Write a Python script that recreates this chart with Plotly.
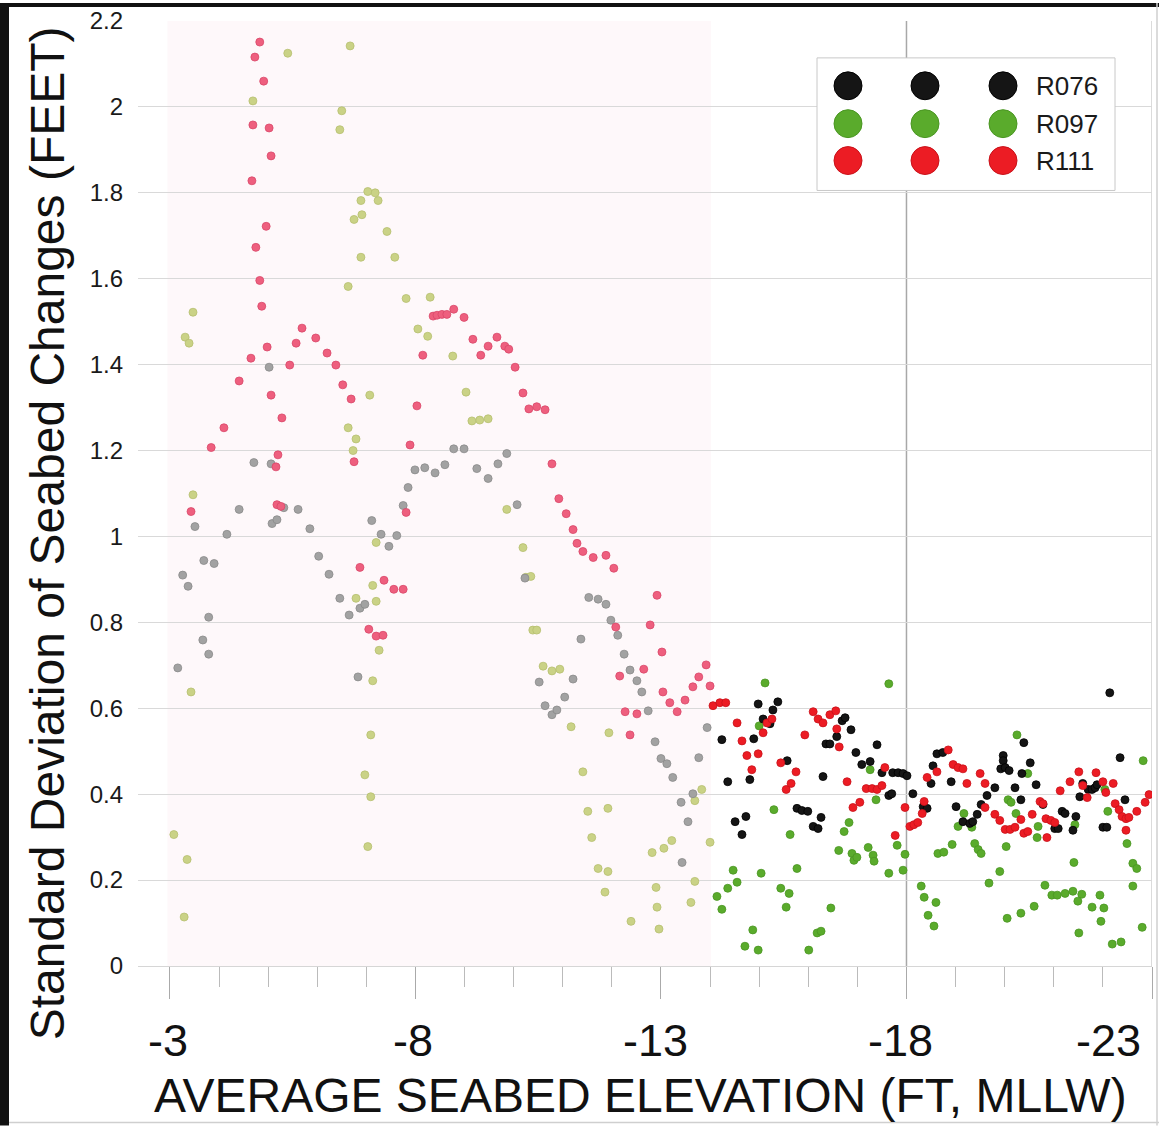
import plotly.graph_objects as go

# ---------------- data ----------------
R076_x = [-3.16, -3.26, -3.37, -3.51, -3.67, -3.79, -3.79, -3.69, -3.90, -4.16, -4.41, -4.71, -5.02, -5.06,
          -5.08, -5.18, -5.32, -5.61, -5.85, -6.03, -6.24, -6.46, -6.65, -6.83, -6.87, -6.97, -7.11, -7.30,
          -7.46, -7.62, -7.75, -7.85, -7.99, -8.19, -8.40, -8.60, -8.78, -8.99, -9.25, -9.48, -9.68, -9.86,
          -10.07, -10.23, -10.52, -10.64, -10.78, -10.88, -11.04, -11.21, -11.37, -11.53, -11.72, -11.88,
          -11.98, -12.12, -12.25, -12.37, -12.51, -12.61, -12.74, -12.88, -13.00, -13.12, -13.24, -13.41,
          -13.43, -13.55, -13.65, -13.77, -13.94,
          -14.24, -14.36, -14.51, -14.65, -14.73, -14.81, -14.89, -14.98, -15.08, -15.22, -15.28, -15.38,
          -15.57, -15.77, -15.87, -15.99, -16.10, -16.20, -16.26, -16.30, -16.36, -16.44, -16.58, -16.69,
          -16.75, -16.87, -16.97, -17.09, -17.26, -17.40, -17.50, -17.64, -17.70, -17.72, -17.83, -17.93,
          -18.01, -18.13, -18.34, -18.42, -18.50, -18.54, -18.62, -18.74, -18.91, -19.01, -19.15, -19.29,
          -19.35, -19.44, -19.52, -19.64, -19.80, -19.92, -19.97, -19.97, -20.01, -20.09, -20.21, -20.33,
          -20.35, -20.39, -20.52, -20.64, -20.78, -21.02, -21.09, -21.17, -21.23, -21.39, -21.45, -21.53,
          -21.59, -21.70, -21.78, -21.84, -21.88, -22.00, -22.08, -22.14, -22.35, -22.45]
R076_y = [0.694, 0.910, 0.884, 1.023, 0.759, 0.726, 0.812, 0.944, 0.937, 1.005, 1.063, 1.172, 1.394, 1.169,
          1.030, 1.039, 1.067, 1.063, 1.018, 0.954, 0.912, 0.856, 0.817, 0.673, 0.833, 0.842, 1.037, 1.005,
          0.977, 1.002, 1.072, 1.114, 1.155, 1.160, 1.148, 1.167, 1.204, 1.204, 1.158, 1.135, 1.169, 1.193,
          1.074, 0.903, 0.661, 0.606, 0.585, 0.596, 0.626, 0.668, 0.761, 0.858, 0.854, 0.842,
          0.805, 0.770, 0.726, 0.689, 0.664, 0.638, 0.594, 0.522, 0.483, 0.471, 0.439, 0.381,
          0.241, 0.336, 0.401, 0.485, 0.555,
          0.527, 0.429, 0.336, 0.306, 0.348, 0.434, 0.529, 0.610, 0.575, 0.564, 0.596, 0.615,
          0.478, 0.367, 0.362, 0.360, 0.325, 0.320, 0.346, 0.441, 0.517, 0.517, 0.534, 0.571,
          0.578, 0.550, 0.497, 0.469, 0.476, 0.515, 0.450, 0.397, 0.401, 0.450, 0.450, 0.448,
          0.443, 0.401, 0.371, 0.367, 0.425, 0.466, 0.494, 0.497, 0.429, 0.371, 0.336, 0.332,
          0.336, 0.353, 0.376, 0.397, 0.415, 0.459, 0.490, 0.478, 0.462, 0.455, 0.415, 0.387,
          0.448, 0.520, 0.473, 0.422, 0.376, 0.320, 0.320, 0.360, 0.355, 0.316, 0.348, 0.394,
          0.425, 0.411, 0.411, 0.415, 0.422, 0.323, 0.323, 0.636, 0.485, 0.387]

R097_x = [-3.08, -3.29, -3.35, -3.31, -3.39, -3.43, -3.47, -3.47, -4.69, -5.40, -6.46, -6.50, -6.63, -6.63,
          -6.67, -6.73, -6.75, -6.79, -6.79, -6.89, -6.89, -6.91, -6.97, -7.03, -7.03, -7.07, -7.09, -7.09,
          -7.13, -7.13, -7.18, -7.20, -7.20, -7.24, -7.26, -7.42, -7.58, -7.81, -8.05, -8.25, -8.30, -8.76,
          -9.03, -9.15, -9.31, -9.48, -9.86, -10.19, -10.25, -10.35, -10.39, -10.47, -10.60, -10.78, -10.94,
          -11.17, -11.41, -11.51, -11.59, -11.72, -11.86, -11.92, -11.92, -11.94, -12.39, -12.82, -12.90,
          -12.92, -12.96, -13.06, -13.22, -13.61, -13.69, -13.69, -13.83, -14.00,
          -14.14, -14.24, -14.36, -14.47, -14.55, -14.71, -14.87, -14.98, -15.00, -15.04, -15.12, -15.30,
          -15.44, -15.55, -15.61, -15.63, -15.77, -16.01, -16.18, -16.26, -16.46, -16.62, -16.73, -16.83,
          -16.89, -16.93, -16.99, -17.22, -17.26, -17.32, -17.34, -17.38, -17.64, -17.64, -17.81, -17.93,
          -17.97, -18.30, -18.36, -18.44, -18.56, -18.60, -18.64, -18.76, -18.93, -19.05, -19.17, -19.33,
          -19.39, -19.46, -19.52, -19.68, -19.90, -20.03, -20.05, -20.07, -20.13, -20.23, -20.25, -20.33,
          -20.47, -20.60, -20.66, -20.68, -20.82, -20.96, -21.07, -21.23, -21.39, -21.57, -21.41, -21.43,
          -21.49, -21.51, -21.78, -21.94, -21.96, -22.02, -22.04, -22.10, -22.19, -22.37, -22.49, -22.61,
          -22.69, -22.61, -22.80, -22.82]
R097_y = [0.306, 0.114, 0.248, 1.464, 1.450, 0.638, 1.522, 1.097, 2.014, 2.125, 1.947, 1.991, 1.582, 1.253,
          2.142, 1.200, 1.738, 1.227, 0.856, 1.782, 1.650, 1.749, 0.445, 1.803, 0.278, 1.329, 0.538, 0.394,
          0.886, 0.664, 1.800, 0.986, 0.849, 1.782, 0.735, 1.710, 1.650, 1.554, 1.483, 1.466, 1.557, 1.420,
          1.336, 1.269, 1.271, 1.274, 1.063, 0.974, 0.905, 0.907, 0.782, 0.782, 0.698, 0.687, 0.691,
          0.557, 0.452, 0.360, 0.299, 0.227, 0.172, 0.220, 0.367, 0.543, 0.104, 0.264, 0.183,
          0.137, 0.086, 0.274, 0.292, 0.148, 0.197, 0.385, 0.411, 0.288,
          0.162, 0.132, 0.181, 0.223, 0.195, 0.046, 0.084, 0.037, 0.559, 0.216, 0.659, 0.364,
          0.181, 0.137, 0.169, 0.306, 0.227, 0.037, 0.077, 0.081, 0.135, 0.269, 0.313, 0.334,
          0.262, 0.246, 0.253, 0.276, 0.457, 0.258, 0.244, 0.387, 0.657, 0.216, 0.281, 0.223,
          0.260, 0.186, 0.160, 0.118, 0.093, 0.148, 0.262, 0.265, 0.283, 0.325, 0.355, 0.323,
          0.285, 0.271, 0.262, 0.193, 0.220, 0.278, 0.111, 0.387, 0.381, 0.355, 0.538, 0.123,
          0.448, 0.139, 0.299, 0.325, 0.188, 0.165, 0.165, 0.169, 0.174, 0.167, 0.241, 0.329,
          0.151, 0.077, 0.137, 0.165, 0.104, 0.135, 0.411, 0.360, 0.051, 0.056, 0.285, 0.239,
          0.227, 0.186, 0.090, 0.478]

R111_x = [-3.43, -3.84, -4.10, -4.41, -4.65, -4.67, -4.69, -4.73, -4.75, -4.83, -4.83, -4.87, -4.91, -4.96,
          -4.98, -5.02, -5.06, -5.06, -5.16, -5.20, -5.18, -5.26, -5.28, -5.44, -5.57, -5.69, -5.97, -6.20,
          -6.38, -6.52, -6.69, -6.75, -6.87, -7.05, -7.20, -7.34, -7.36, -7.56, -7.75, -7.81, -7.89, -8.03,
          -8.15, -8.36, -8.44, -8.54, -8.64, -8.78, -8.99, -9.17, -9.33, -9.48, -9.66, -9.82, -9.90, -10.03,
          -10.19, -10.31, -10.47, -10.64, -10.78, -10.92, -11.07, -11.21, -11.29, -11.41, -11.62, -11.88,
          -12.04, -12.08, -12.16, -12.27, -12.37, -12.51, -12.65, -12.78, -12.92, -13.02, -13.04, -13.18,
          -13.33, -13.49, -13.65, -13.77, -13.92, -14.00,
          -14.06, -14.20, -14.32, -14.55, -14.65, -14.75, -14.85, -14.98, -15.08, -15.16, -15.26, -15.44,
          -15.55, -15.65, -15.75, -15.93, -16.10, -16.20, -16.30, -16.44, -16.56, -16.58, -16.63, -16.79,
          -16.91, -17.05, -17.18, -17.30, -17.40, -17.50, -17.56, -17.77, -17.97, -18.07, -18.15, -18.23,
          -18.32, -18.36, -18.42, -18.62, -18.85, -18.95, -19.05, -19.15, -19.23, -19.50, -19.60, -19.60,
          -19.80, -19.90, -20.01, -20.11, -20.21, -20.33, -20.39, -20.47, -20.56, -20.72, -20.78, -20.84,
          -20.86, -20.94, -21.02, -21.13, -21.33, -21.51, -21.59, -21.68, -21.86, -22.00, -22.06, -22.21,
          -22.25, -22.33, -22.39, -22.47, -22.53, -22.47, -22.69, -22.86, -22.94]
R111_y = [1.058, 1.207, 1.253, 1.362, 1.415, 1.828, 1.958, 2.116, 1.673, 2.151, 1.596, 1.536, 2.060, 1.722,
          1.441, 1.951, 1.886, 1.329, 1.162, 1.190, 1.074, 1.070, 1.276, 1.399, 1.450, 1.485, 1.462, 1.427,
          1.399, 1.353, 1.320, 1.174, 0.928, 0.784, 0.768, 0.770, 0.898, 0.877, 0.877, 1.056, 1.213, 1.304,
          1.422, 1.513, 1.515, 1.517, 1.517, 1.529, 1.510, 1.459, 1.422, 1.443, 1.464, 1.443, 1.436, 1.394,
          1.334, 1.297, 1.302, 1.295, 1.169, 1.088, 1.053, 1.016, 0.984, 0.965, 0.951, 0.956,
          0.926, 0.789, 0.675, 0.592, 0.538, 0.587, 0.691, 0.794, 0.863, 0.731, 0.638, 0.613,
          0.592, 0.619, 0.650, 0.673, 0.701, 0.652,
          0.606, 0.613, 0.613, 0.566, 0.524, 0.490, 0.457, 0.494, 0.543, 0.566, 0.575, 0.473,
          0.411, 0.425, 0.452, 0.538, 0.592, 0.575, 0.566, 0.585, 0.594, 0.552, 0.510, 0.429,
          0.369, 0.381, 0.413, 0.413, 0.411, 0.420, 0.462, 0.304, 0.369, 0.325, 0.329, 0.334,
          0.355, 0.383, 0.439, 0.452, 0.503, 0.469, 0.462, 0.459, 0.425, 0.448, 0.425, 0.369,
          0.353, 0.339, 0.318, 0.318, 0.323, 0.341, 0.309, 0.313, 0.353, 0.383, 0.378, 0.343,
          0.299, 0.339, 0.334, 0.408, 0.429, 0.452, 0.420, 0.392, 0.450, 0.429, 0.404, 0.425,
          0.378, 0.364, 0.348, 0.343, 0.346, 0.316, 0.360, 0.381, 0.399]

SERIES_NAMES = ["R097", "R076", "R111"]
X_TICK_VALUES = [-3, -8, -13, -18, -23]
X_TICK_LABELS = ["-3", "-8", "-13", "-18", "-23"]
X_TITLE = "AVERAGE SEABED ELEVATION (FT, MLLW)"
Y_TITLE = "Standard Deviation of Seabed Changes (FEET)"
LEGEND_NAMES = ["R076", "R097", "R111"]
SHADE_EDGE = -14.02   # elevation where the pink shaded zone ends

# ---------------- style ----------------
FONT = "Liberation Sans, Arial, Helvetica, sans-serif"
BRIGHT = {"R076": "#151515", "R097": "#5aab2c", "R111": "#ec1c24"}
BRIGHT_LINE = {"R076": "#000000", "R097": "#4a9622", "R111": "#c9121a"}
FADED = {"R076": "#a2a2a2", "R097": "#cad286", "R111": "#ee5f7e"}
FADED_LINE = {"R076": "#8a8a8a", "R097": "#b6bf70", "R111": "#d9486a"}
X_LABEL_SHIFT = [-2, -2, -5, -6, -44]

W, H = 1159, 1126
ML, MR, MT, MB = 138, 7, 18, 160
PW, PH = W - ML - MR, H - MT - MB


def pxx(xp):
    return (xp - ML) / PW


def pxy(yp):
    return (H - MB - yp) / PH


data = {"R076": (R076_x, R076_y), "R097": (R097_x, R097_y), "R111": (R111_x, R111_y)}

fig = go.Figure()
for name in SERIES_NAMES:
    xs, ys = data[name]
    fill = [FADED[name] if x > SHADE_EDGE else BRIGHT[name] for x in xs]
    edge = [FADED_LINE[name] if x > SHADE_EDGE else BRIGHT_LINE[name] for x in xs]
    fig.add_trace(go.Scatter(
        x=xs, y=ys, mode="markers", name=name, showlegend=False,
        marker=dict(size=8, color=fill, line=dict(width=0.8, color=edge)),
    ))

minor_vals = [v for v in range(-3, -24, -1) if v not in X_TICK_VALUES]

fig.update_layout(
    width=W, height=H,
    margin=dict(l=ML, r=MR, t=MT, b=MB, pad=0),
    paper_bgcolor="white", plot_bgcolor="white",
    showlegend=False,
    font=dict(family=FONT, color="#1a1a1a"),
)
fig.update_xaxes(
    range=[-2.35, -23.0], showgrid=False, zeroline=False,
    showline=True, linecolor="#d6d6d6", linewidth=1,
    tickmode="array", tickvals=X_TICK_VALUES, showticklabels=False,
    ticks="outside", ticklen=32, tickwidth=1, tickcolor="#aaaaaa",
    minor=dict(tickmode="array", tickvals=minor_vals, ticks="outside",
               ticklen=20, tickwidth=1, tickcolor="#bbbbbb"),
)
fig.update_yaxes(
    range=[0, 2.2], tick0=0, dtick=0.2, showgrid=True, gridcolor="#d9d9d9", gridwidth=1,
    zeroline=False, showline=False, ticks="", ticklabelstandoff=14,
    tickfont=dict(size=24, color="#1a1a1a", family=FONT),
)

shapes = []
# pink shaded (shallow) zone
shapes.append(dict(type="rect", xref="x", yref="paper", x0=-2.95, x1=SHADE_EDGE, y0=0, y1=1,
                   fillcolor="rgba(252,234,240,0.35)", line=dict(width=0), layer="between"))
# vertical reference lines
shapes.append(dict(type="line", xref="x", yref="paper", x0=-18, x1=-18, y0=0, y1=1,
                   line=dict(color="#a8a8a8", width=1.5), layer="between"))
shapes.append(dict(type="line", xref="x", yref="paper", x0=-23, x1=-23, y0=0, y1=1,
                   line=dict(color="#c4c4c4", width=1.2), layer="between"))
# scan frame
shapes.append(dict(type="rect", xref="paper", yref="paper", x0=pxx(0), x1=pxx(9), y0=pxy(H), y1=pxy(0),
                   fillcolor="#111111", line=dict(width=0), layer="above"))
shapes.append(dict(type="rect", xref="paper", yref="paper", x0=pxx(0), x1=pxx(W), y0=pxy(4), y1=pxy(0),
                   fillcolor="#111111", line=dict(width=0), layer="above"))
shapes.append(dict(type="line", xref="paper", yref="paper", x0=pxx(1157), x1=pxx(1157), y0=pxy(H), y1=pxy(0),
                   line=dict(color="#cfcfcf", width=1.5), layer="above"))
shapes.append(dict(type="line", xref="paper", yref="paper", x0=pxx(9), x1=pxx(W), y0=pxy(1123), y1=pxy(1123),
                   line=dict(color="#cfcfcf", width=1.5), layer="above"))

# custom legend box: three marker columns, labels on the right
LEG_BOX = (817, 55, 1115, 188)
shapes.append(dict(type="rect", xref="paper", yref="paper",
                   x0=pxx(LEG_BOX[0]), x1=pxx(LEG_BOX[2]), y0=pxy(LEG_BOX[3]), y1=pxy(LEG_BOX[1]),
                   fillcolor="white", line=dict(color="#c8c8c8", width=1), layer="above"))
LEG_COLS = [848, 925, 1003]
LEG_ROWS = [83, 121, 158]
R = 14
annotations = []
for name, cy in zip(LEGEND_NAMES, LEG_ROWS):
    for cx in LEG_COLS:
        shapes.append(dict(type="circle", xref="paper", yref="paper",
                           x0=pxx(cx - R), x1=pxx(cx + R), y0=pxy(cy + R), y1=pxy(cy - R),
                           fillcolor=BRIGHT[name], line=dict(color=BRIGHT_LINE[name], width=1),
                           layer="above"))
    annotations.append(dict(text=name, xref="paper", yref="paper", x=pxx(1034), y=pxy(cy),
                            xanchor="left", yanchor="middle", showarrow=False,
                            font=dict(size=26, color="#1a1a1a", family=FONT)))

# x tick labels
for v, lab, sh in zip(X_TICK_VALUES, X_TICK_LABELS, X_LABEL_SHIFT):
    annotations.append(dict(text=lab, xref="x", yref="paper", x=v, y=0, xshift=sh, yshift=-74,
                            xanchor="center", yanchor="middle", showarrow=False,
                            font=dict(size=45, color="#111111", family=FONT)))
# axis titles
annotations.append(dict(text=X_TITLE, xref="paper", yref="paper", x=pxx(640), y=0, yshift=-129,
                        xanchor="center", yanchor="middle", showarrow=False,
                        font=dict(size=48, color="#111111", family=FONT)))
annotations.append(dict(text=Y_TITLE, xref="paper", yref="paper", x=pxx(47), y=pxy(532),
                        xanchor="center", yanchor="middle", textangle=-90, showarrow=False,
                        font=dict(size=48, color="#111111", family=FONT)))

fig.update_layout(shapes=shapes, annotations=annotations)
fig.write_html("out.html")
